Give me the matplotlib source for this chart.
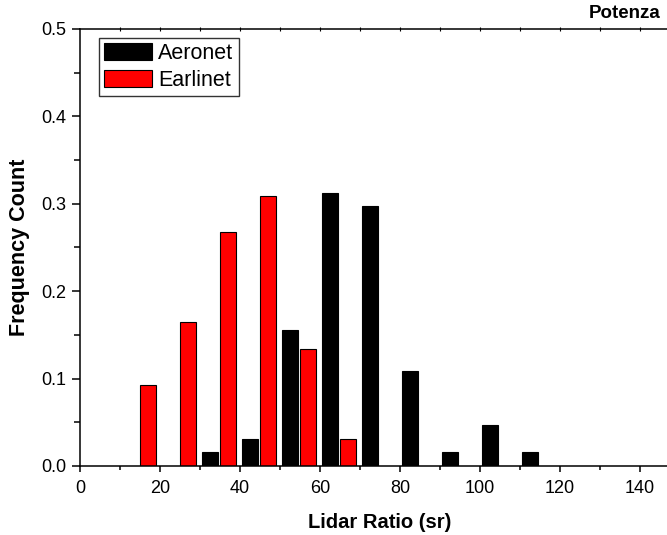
import matplotlib
matplotlib.use("Agg")
import matplotlib.pyplot as plt
from matplotlib.ticker import MultipleLocator

plt.rcParams['font.family'] = ['Liberation Sans', 'DejaVu Sans']

aeronet_x = [32.5, 42.5, 52.5, 62.5, 72.5, 82.5, 92.5, 102.5, 112.5]
aeronet_y = [0.016, 0.031, 0.156, 0.3125, 0.297, 0.109, 0.016, 0.047, 0.016]
earlinet_x = [17, 27, 37, 47, 57, 67]
earlinet_y = [0.093, 0.165, 0.268, 0.309, 0.134, 0.031]

fig = plt.figure(figsize=(6.67, 5.35), dpi=100)
ax = fig.add_axes([80/667, 1-466/535, 600/667, (466-29)/535])

ax.bar(aeronet_x, aeronet_y, width=4, color='black', edgecolor='black', linewidth=0.8, label='Aeronet')
ax.bar(earlinet_x, earlinet_y, width=4, color='#ff0000', edgecolor='black', linewidth=0.8, label='Earlinet')

ax.set_xlim(0, 150)
ax.set_ylim(0, 0.5)
ax.xaxis.set_major_locator(MultipleLocator(20))
ax.xaxis.set_minor_locator(MultipleLocator(10))
ax.yaxis.set_major_locator(MultipleLocator(0.1))
ax.yaxis.set_minor_locator(MultipleLocator(0.05))
ax.tick_params(which='both', direction='out', top=False, right=False, labelsize=13, width=1.1)
ax.tick_params(axis='x', which='major', length=4.3, pad=6)
ax.tick_params(axis='x', which='minor', length=2.8)
ax.tick_params(axis='y', which='major', length=5.8, pad=4)
ax.tick_params(axis='y', which='minor', length=4.0)
ax.spines['right'].set_visible(False)
for s in ['left', 'bottom', 'top']:
    ax.spines[s].set_linewidth(1.1)

# small ticks on the top spine every 10 units
sec = ax.secondary_xaxis('top')
sec.set_xticks(range(10, 150, 10))
sec.tick_params(direction='inout', length=2.5, width=0.8, labeltop=False)
sec.spines['top'].set_visible(False)

ax.set_xlabel('Lidar Ratio (sr)', fontsize=14.5, fontweight='bold', labelpad=11)
ax.set_ylabel('Frequency Count', fontsize=15.5, fontweight='bold', labelpad=8)

fig.text(661/667, 1-14/535, 'Potenza', ha='right', va='center', fontsize=13.5, fontweight='bold')

leg = ax.legend(loc='upper left', bbox_to_anchor=((99-80)/600, 1-(38-29)/437), borderaxespad=0,
                fontsize=15.5, frameon=True, fancybox=False, edgecolor='black',
                handlelength=2.2, handleheight=0.84, borderpad=0.25, labelspacing=0.26,
                handletextpad=0.3)
leg.get_frame().set_linewidth(1.0)

fig.savefig('out.png', dpi=100)
